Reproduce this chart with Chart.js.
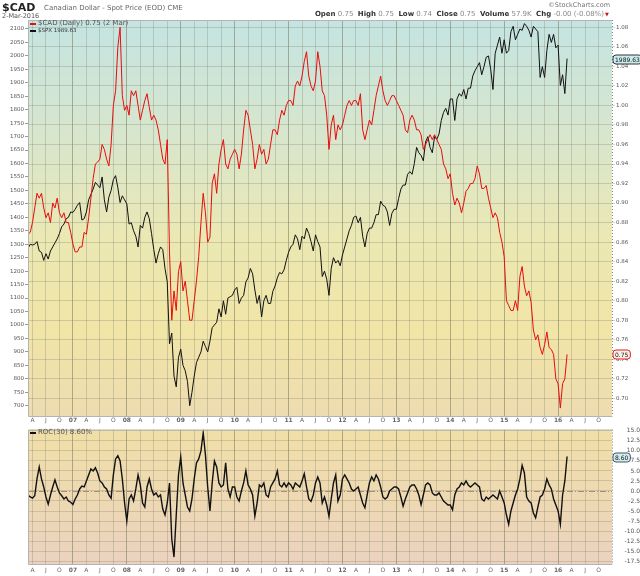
<!DOCTYPE html>
<html>
<head>
<meta charset="utf-8">
<script src="https://cdn.jsdelivr.net/npm/chart.js@4.4.1/dist/chart.umd.min.js"></script>
<style>
  body { margin: 0; background: #fff; }
  #wrap { position: relative; width: 640px; height: 576px; font-family: "DejaVu Sans", sans-serif; }
  canvas { position: absolute; left: 0; }
  #top { top: 0; }
  #bot { top: 424px; }
  .t { position: absolute; white-space: nowrap; color: #555; line-height: 1; }
  .t b { color: #333; }
  .dash { position: absolute; width: 6px; height: 2px; }
</style>
</head>
<body>
<div id="wrap">
  <canvas id="top" width="640" height="427"></canvas>
  <canvas id="bot" width="640" height="152"></canvas>

  <div class="t" style="left:2px;top:2px;font-size:11px;font-weight:bold;color:#222">$CAD</div>
  <div class="t" style="left:44px;top:5px;font-size:7px;color:#666">Canadian Dollar - Spot Price (EOD) CME</div>
  <div class="t" style="left:2px;top:13px;font-size:6.5px;color:#555">2-Mar-2016</div>
  <div class="t" style="right:30px;top:2px;font-size:6.5px;color:#777">©StockCharts.com</div>
  <div class="t" style="right:36px;top:11px;font-size:7px;color:#888"><b>Open</b> 0.75 &nbsp;<b>High</b> 0.75 &nbsp;<b>Low</b> 0.74 &nbsp;<b>Close</b> 0.75 &nbsp;<b>Volume</b> 57.9K &nbsp;<b>Chg</b> -0.00 (-0.08%)</div>
  <div class="t" style="left:605px;top:12px;font-size:5px;color:#d01010">▼</div>

  <div class="dash" style="left:30px;top:23px;background:#e41010"></div>
  <div class="t" style="left:38px;top:20px;font-size:7px;color:#555">$CAD (Daily) 0.75 (2 Mar)</div>
  <div class="dash" style="left:30px;top:30px;background:#111"></div>
  <div class="t" style="left:38px;top:28px;font-size:5.5px;color:#333">$SPX 1989.63</div>

  <div class="dash" style="left:30px;top:432px;background:#111"></div>
  <div class="t" style="left:38px;top:429px;font-size:7px;color:#555">ROC(30) 8.60%</div>
</div>

<script>
// months counted from Jan 2006; first point is 1 Mar 2006, then about twice a month
const startMonth = 2;
const stepMonths = 0.5;

// S&P 500 overlay (left axis)
const spx = [
  1285, 1300, 1297, 1300, 1310, 1275, 1270, 1240, 1265, 1245, 1275, 1290, 1305, 1320, 1340, 1365, 1375, 1395, 1400, 1420,
  1418, 1430, 1445, 1455, 1390, 1395, 1420, 1465, 1485, 1505, 1530, 1520, 1510, 1550, 1465, 1420, 1475, 1500, 1540, 1555, 1510, 1455, 1480, 1465,
  1450, 1375, 1380, 1350, 1330, 1290, 1370, 1360, 1400, 1420, 1395, 1340, 1280, 1230, 1265, 1290, 1280, 1210, 1160, 930, 970, 810, 770, 880,
  910, 850, 830, 790, 700, 750, 810, 860, 880, 900, 940, 920, 900, 940, 990, 1000, 1010, 1060, 1030, 1090, 1040, 1100, 1105, 1110,
  1130, 1140, 1080, 1100, 1110, 1160, 1175, 1210, 1190, 1130, 1080, 1110, 1030, 1090, 1110, 1080, 1080, 1125, 1145, 1175, 1195, 1190, 1205, 1240,
  1270, 1290, 1300, 1335, 1320, 1280, 1330, 1320, 1360, 1340, 1310, 1275, 1335, 1310, 1290, 1180, 1200, 1170, 1110, 1210, 1250, 1230, 1240, 1220,
  1260, 1290, 1320, 1350, 1370, 1400, 1405, 1380, 1400, 1330, 1290, 1340, 1360, 1360, 1380, 1410, 1410, 1460, 1445, 1440, 1420, 1370, 1415, 1430,
  1430, 1470, 1505, 1520, 1520, 1560, 1570, 1560, 1600, 1660, 1640, 1630, 1610, 1680, 1700, 1660, 1640, 1700, 1690, 1710, 1760, 1790, 1805, 1780,
  1840, 1840, 1760, 1840, 1860, 1850, 1875, 1840, 1880, 1880, 1925, 1945, 1960, 1975, 1930, 1960, 1995, 2000, 1950, 1875, 2010, 2040, 2070, 2010,
  2060, 2010, 2020, 2090, 2110, 2060, 2080, 2100, 2095, 2120, 2110, 2095, 2070, 2110, 2100, 2090, 1920, 1960, 1920, 2020, 2080, 2050, 2080, 2030,
  2040, 1890, 1930, 1860, 1990
];

// Canadian dollar spot price (right axis)
const cad = [
  0.868, 0.870, 0.880, 0.895, 0.910, 0.905, 0.910, 0.895, 0.885, 0.890, 0.880, 0.900, 0.895, 0.905, 0.890, 0.885, 0.890, 0.880, 0.880, 0.870,
  0.858, 0.850, 0.850, 0.855, 0.855, 0.870, 0.868, 0.885, 0.905, 0.925, 0.940, 0.942, 0.945, 0.960, 0.955, 0.945, 0.938, 0.960, 1.000, 1.015, 1.060, 1.080, 1.010, 0.995,
  1.000, 0.990, 1.015, 1.010, 1.015, 1.000, 0.985, 0.995, 1.005, 1.012, 0.998, 0.985, 0.990, 0.985, 0.975, 0.960, 0.945, 0.940, 0.965, 0.850, 0.780, 0.810, 0.790, 0.830,
  0.840, 0.810, 0.820, 0.800, 0.780, 0.780, 0.800, 0.820, 0.845, 0.880, 0.910, 0.890, 0.860, 0.865, 0.920, 0.930, 0.910, 0.940, 0.955, 0.965, 0.940, 0.935, 0.945, 0.950,
  0.955, 0.950, 0.935, 0.950, 0.975, 0.995, 0.990, 0.975, 0.960, 0.935, 0.945, 0.960, 0.950, 0.955, 0.940, 0.945, 0.960, 0.975, 0.975, 0.970, 0.985, 0.995, 0.990, 1.000,
  1.005, 1.005, 1.000, 1.020, 1.025, 1.020, 1.030, 1.045, 1.055, 1.030, 1.020, 1.015, 1.025, 1.055, 1.040, 1.015, 1.010, 0.990, 0.955, 0.980, 0.990, 0.965, 0.980, 0.975,
  0.980, 0.990, 1.000, 1.005, 1.000, 1.005, 1.005, 1.000, 1.012, 0.975, 0.965, 0.975, 0.985, 0.980, 0.995, 1.010, 1.020, 1.030, 1.015, 1.005, 1.000, 1.005, 1.010, 1.010,
  1.005, 1.000, 0.995, 0.990, 0.975, 0.972, 0.985, 0.990, 0.985, 0.975, 0.975, 0.970, 0.955, 0.960, 0.965, 0.970, 0.965, 0.970, 0.965, 0.960, 0.955, 0.940, 0.935, 0.925,
  0.930, 0.910, 0.898, 0.905, 0.900, 0.890, 0.900, 0.912, 0.915, 0.920, 0.920, 0.925, 0.938, 0.930, 0.915, 0.915, 0.918, 0.905, 0.895, 0.885, 0.890, 0.885, 0.870, 0.860,
  0.845, 0.800, 0.795, 0.790, 0.790, 0.800, 0.790, 0.825, 0.835, 0.815, 0.805, 0.810, 0.798, 0.770, 0.760, 0.765, 0.752, 0.745, 0.755, 0.768, 0.752, 0.750, 0.745, 0.720,
  0.715, 0.690, 0.715, 0.720, 0.745
];

// ROC(30) of $CAD, percent (lower panel)
const roc = [
  -1.0, -1.5, -1.8, -1.2, 3.0, 6.0, 3.0, 1.0, -1.5, -3.3, -1.0, 1.0, 2.8, 1.0, -0.5, -1.2, -2.0, -1.5, -2.5, -2.8,
  -3.4, -2.0, -1.0, 0.5, 1.2, 1.0, 2.5, 4.0, 5.5, 5.0, 5.8, 4.5, 2.5, 2.0, 1.0, 0.5, -1.0, -1.8, 4.0, 8.0, 8.8, 7.5, 3.0, -3.0,
  -7.5, -2.0, -1.0, -2.5, 0.5, 4.0, 1.5, -3.0, -4.0, 1.0, 3.0, 0.5, -1.0, -0.5, -1.5, -1.0, -4.5, -6.0, -3.0, 2.0, -12.0, -16.5, -6.0, 4.0,
  8.5, 2.0, -1.0, -4.0, -5.0, -2.0, 3.0, 7.0, 8.0, 10.0, 14.5, 9.0, 1.0, -5.0, 2.0, 7.5, 6.0, 2.0, 1.0, 1.5, 7.0, 0.5, -1.5, 1.0,
  1.0, -1.5, -2.5, 0.0, 2.0, 5.0, 1.5, 0.5, -1.0, -6.3, -3.0, 1.5, 1.0, 2.0, -1.0, -1.5, 1.0, 2.0, 3.0, 5.0, 1.5, 1.0, 2.0, 1.0,
  2.0, 1.5, 0.5, 2.0, 1.5, 1.0, 2.5, 4.3, 1.0, -2.0, -2.6, -1.0, 2.0, 3.5, 2.0, -3.0, -1.5, -3.5, -6.3, -2.0, 2.0, 4.0, -2.5, -1.0,
  3.0, 4.0, 3.0, 2.0, 0.5, 0.0, 0.5, 1.0, -1.0, -3.0, -4.2, -1.0, 2.0, 3.5, 2.5, 4.0, 3.0, 1.0, -1.5, -2.0, -1.5, 0.0, 0.5, 1.0,
  1.0, 0.5, -1.5, -3.8, -2.0, -0.5, 1.0, 1.5, 1.5, 0.5, -1.0, -3.4, -1.0, 1.5, 2.0, 1.5, -0.5, -1.0, -1.0, -0.5, -1.5, -2.5, -3.0, -3.5,
  -3.5, -4.7, -1.0, 0.5, 1.0, 2.0, 1.5, 2.5, 1.5, 1.0, 1.5, 2.0, 1.5, 1.0, -2.0, -2.5, -1.5, -2.0, -1.5, -1.0, -1.5, -2.0, 0.0, -1.5,
  -3.0, -6.0, -8.3, -5.0, -3.0, -1.0, 0.5, 3.0, 6.4, 4.5, -1.5, -2.5, -3.0, -5.5, -6.7, -4.0, -1.5, -1.0, 0.5, 3.0, 1.5, 0.5, -2.0, -3.5,
  -5.0, -8.3, -1.0, 2.5, 8.6
];

const spxTicks = [700, 750, 800, 850, 900, 950, 1000, 1050, 1100, 1150, 1200, 1250, 1300, 1350, 1400,
  1450, 1500, 1550, 1600, 1650, 1700, 1750, 1800, 1850, 1900, 1950, 2000, 2050, 2100];
const cadTicks = [0.70, 0.72, 0.74, 0.76, 0.78, 0.80, 0.82, 0.84, 0.86, 0.88, 0.90, 0.92, 0.94, 0.96,
  0.98, 1.00, 1.02, 1.04, 1.06, 1.08];
const rocTicks = [-17.5, -15, -12.5, -10, -7.5, -5, -2.5, 0, 2.5, 5, 7.5, 10, 12.5, 15];
const quarterLetters = ['A', 'J', 'O'];
const yearLabels = ['07', '08', '09', '10', '11', '12', '13', '14', '15', '16'];

// quarterly ticks on the month scale
const xTicks = [];
for (let k = 0; k <= 10; k++) {
  quarterLetters.forEach((l, q) => xTicks.push({ value: 12 * k + 3 * (q + 1), label: l }));
  if (k < yearLabels.length) xTicks.push({ value: 12 * (k + 1), label: yearLabels[k] });
}
const xLabel = {};
xTicks.forEach(t => { xLabel[t.value] = t.label; });

function toPoints(arr) {
  return arr.map((v, i) => ({ x: startMonth + i * stepMonths, y: v }));
}

Chart.defaults.font.family = '"DejaVu Sans", sans-serif';
Chart.defaults.color = '#555';

const isYear = c => c.tick && c.tick.value % 12 === 0;

function xScale(labelPad, height) {
  return {
    type: 'linear', min: 2, max: 132,
    afterBuildTicks: s => { s.ticks = xTicks.map(t => ({ value: t.value })); },
    afterFit: s => { s.height = height; },
    ticks: {
      autoSkip: false, maxRotation: 0, padding: labelPad, color: '#666',
      callback: v => xLabel[v],
      font: c => ({ size: 6, weight: isYear(c) ? 'bold' : 'normal' })
    },
    grid: {
      drawTicks: false,
      color: c => isYear(c) ? 'rgba(120,120,95,0.55)' : 'rgba(130,135,115,0.32)'
    },
    border: { display: false }
  };
}

const panelBg = {
  id: 'panelBg',
  beforeDraw(chart, args, opts) {
    const { ctx, chartArea: a } = chart;
    const g = ctx.createLinearGradient(0, a.top, 0, a.bottom);
    opts.stops.forEach(s => g.addColorStop(s[0], s[1]));
    ctx.save();
    ctx.fillStyle = g;
    ctx.fillRect(a.left, a.top, a.right - a.left, a.bottom - a.top);
    ctx.restore();
  },
  afterDraw(chart) {
    const { ctx, chartArea: a } = chart;
    ctx.save();
    ctx.strokeStyle = '#b4b4b4';
    ctx.lineWidth = 1;
    ctx.beginPath();
    ctx.moveTo(a.right + 0.5, a.top + 0.5);
    ctx.lineTo(a.left + 0.5, a.top + 0.5);
    ctx.lineTo(a.left + 0.5, a.bottom + 0.5);
    ctx.lineTo(a.right + 0.5, a.bottom + 0.5);
    ctx.stroke();
    ctx.setLineDash([1, 2]);
    ctx.strokeStyle = '#888';
    ctx.beginPath();
    ctx.moveTo(a.right + 0.5, a.top);
    ctx.lineTo(a.right + 0.5, a.bottom);
    ctx.stroke();
    ctx.restore();
  }
};

// last-value tags on the right axis
const lastTags = {
  id: 'lastTags',
  afterDraw(chart, args, opts) {
    const ctx = chart.ctx;
    const x = chart.chartArea.right;
    opts.tags.forEach(t => {
      const y = Math.round(chart.scales[t.axis].getPixelForValue(t.value)) + 0.5;
      ctx.save();
      ctx.font = '6px "DejaVu Sans", sans-serif';
      const w = ctx.measureText(t.text).width + 4;
      ctx.beginPath();
      ctx.roundRect(x + 1, y - 4.5, w, 9, 3);
      ctx.fillStyle = t.fill;
      ctx.fill();
      ctx.strokeStyle = t.stroke;
      ctx.lineWidth = 1;
      ctx.stroke();
      ctx.fillStyle = '#111';
      ctx.textBaseline = 'middle';
      ctx.fillText(t.text, x + 3, y + 0.5);
      ctx.restore();
    });
  }
};

const zeroLine = {
  id: 'zeroLine',
  beforeDatasetsDraw(chart) {
    const { ctx, chartArea: a } = chart;
    const y = Math.round(chart.scales.y.getPixelForValue(0)) + 0.5;
    ctx.save();
    ctx.strokeStyle = '#a0907a';
    ctx.setLineDash([6, 2, 1, 2]);
    ctx.beginPath();
    ctx.moveTo(a.left, y);
    ctx.lineTo(a.right, y);
    ctx.stroke();
    ctx.restore();
  }
};

new Chart(document.getElementById('top'), {
  type: 'line',
  data: {
    datasets: [
      { label: '$CAD', data: toPoints(cad), yAxisID: 'yCad', borderColor: '#e80c0c', borderWidth: 1, pointRadius: 0, tension: 0 },
      { label: '$SPX', data: toPoints(spx), yAxisID: 'ySpx', borderColor: '#111', borderWidth: 1, pointRadius: 0, tension: 0 }
    ]
  },
  options: {
    responsive: false, animation: false, devicePixelRatio: 1,
    layout: { padding: { top: 20 } },
    plugins: {
      legend: { display: false }, tooltip: { enabled: false },
      panelBg: { stops: [[0, '#c4e4e2'], [0.3, '#d8e6cc'], [0.55, '#ebe8b3'], [0.78, '#f1e5a6'], [1, '#eedcb1']] },
      lastTags: { tags: [
        { axis: 'ySpx', value: spx[spx.length - 1], text: '1989.63', stroke: '#334', fill: '#cdecec' },
        { axis: 'yCad', value: cad[cad.length - 1], text: '0.75', stroke: '#d82020', fill: '#fbefe6' }
      ] }
    },
    scales: {
      x: xScale(1, 11),
      ySpx: {
        position: 'left', min: 661.7, max: 2133.4,
        afterBuildTicks: s => { s.ticks = spxTicks.map(v => ({ value: v })); },
        afterFit: s => { s.width = 28; },
        ticks: { autoSkip: false, padding: 1, color: '#555', font: { size: 5.5 }, callback: v => String(v) },
        grid: { drawOnChartArea: false, tickLength: 3, color: '#999' },
        border: { display: false }
      },
      yCad: {
        position: 'right', min: 0.6819, max: 1.0875,
        afterBuildTicks: s => { s.ticks = cadTicks.map(v => ({ value: v })); },
        afterFit: s => { s.width = 28; },
        ticks: { autoSkip: false, padding: 1, color: '#555', font: { size: 5.5 }, callback: v => v.toFixed(2) },
        grid: { tickLength: 3, color: 'rgba(130,135,115,0.32)' },
        border: { display: false }
      }
    }
  },
  plugins: [panelBg, lastTags]
});

new Chart(document.getElementById('bot'), {
  type: 'line',
  data: {
    datasets: [
      { label: 'ROC(30)', data: toPoints(roc), borderColor: '#111', borderWidth: 1.4, pointRadius: 0, tension: 0 }
    ]
  },
  options: {
    responsive: false, animation: false, devicePixelRatio: 1,
    layout: { padding: { top: 3, left: 28 } },
    plugins: {
      legend: { display: false }, tooltip: { enabled: false },
      panelBg: { stops: [[0, '#f1dfa8'], [0.5, '#eed9b2'], [1, '#ebd2bf']] },
      lastTags: { tags: [
        { axis: 'y', value: roc[roc.length - 1], text: '8.60', stroke: '#456', fill: '#d2eeec' }
      ] }
    },
    scales: {
      x: xScale(3, 12),
      y: {
        position: 'right', min: -18.23, max: 15.32,
        afterBuildTicks: s => { s.ticks = rocTicks.map(v => ({ value: v })); },
        afterFit: s => { s.width = 28; },
        ticks: { autoSkip: false, padding: 2, crossAlign: 'far', color: '#555', font: { size: 6 }, callback: v => v.toFixed(1) },
        grid: { drawTicks: false, color: 'rgba(130,130,110,0.3)' },
        border: { display: false }
      }
    }
  },
  plugins: [panelBg, lastTags, zeroLine]
});
</script>
</body>
</html>
